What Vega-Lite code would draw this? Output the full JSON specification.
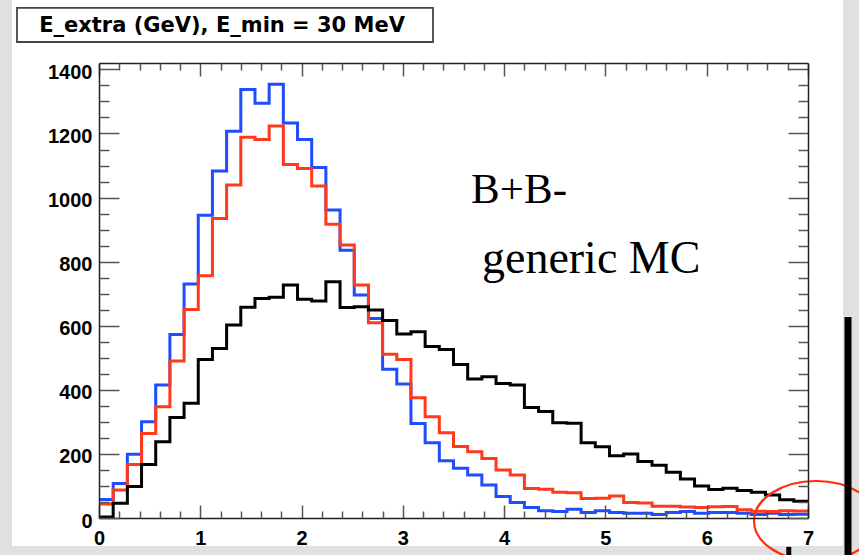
{
  "$schema": "https://vega.github.io/schema/vega-lite/v6.json",
  "width": 709,
  "height": 455,
  "autosize": {"type": "none"},
  "padding": {"left": 99, "top": 63, "right": 51, "bottom": 37},
  "background": "#e0e0e0",
  "config": {
    "view": {"stroke": null},
    "axis": {
      "grid": false,
      "domainColor": "#222",
      "domainWidth": 1.5,
      "tickColor": "#555",
      "tickWidth": 1.5,
      "labelFont": "Liberation Sans",
      "labelFontWeight": "bold",
      "labelFontSize": 20,
      "labelColor": "#000"
    }
  },
  "data": {
    "values": [
      {"E": 0.00, "blue": 58, "red": 44, "black": 3},
      {"E": 0.14, "blue": 108, "red": 87, "black": 46},
      {"E": 0.28, "blue": 199, "red": 167, "black": 98},
      {"E": 0.42, "blue": 300, "red": 264, "black": 167},
      {"E": 0.56, "blue": 415, "red": 347, "black": 238},
      {"E": 0.70, "blue": 573, "red": 490, "black": 314},
      {"E": 0.84, "blue": 730, "red": 651, "black": 358},
      {"E": 0.98, "blue": 945, "red": 756, "black": 495},
      {"E": 1.12, "blue": 1083, "red": 935, "black": 529},
      {"E": 1.26, "blue": 1207, "red": 1039, "black": 602},
      {"E": 1.40, "blue": 1337, "red": 1188, "black": 658},
      {"E": 1.54, "blue": 1294, "red": 1181, "black": 685},
      {"E": 1.68, "blue": 1354, "red": 1223, "black": 689},
      {"E": 1.82, "blue": 1233, "red": 1103, "black": 727},
      {"E": 1.96, "blue": 1181, "red": 1091, "black": 683},
      {"E": 2.10, "blue": 1094, "red": 1036, "black": 677},
      {"E": 2.24, "blue": 961, "red": 917, "black": 737},
      {"E": 2.38, "blue": 836, "red": 852, "black": 657},
      {"E": 2.52, "blue": 696, "red": 727, "black": 659},
      {"E": 2.66, "blue": 623, "red": 609, "black": 649},
      {"E": 2.80, "blue": 464, "red": 511, "black": 616},
      {"E": 2.94, "blue": 418, "red": 495, "black": 574},
      {"E": 3.08, "blue": 295, "red": 375, "black": 581},
      {"E": 3.22, "blue": 235, "red": 316, "black": 535},
      {"E": 3.36, "blue": 179, "red": 266, "black": 526},
      {"E": 3.50, "blue": 155, "red": 223, "black": 479},
      {"E": 3.64, "blue": 134, "red": 207, "black": 434},
      {"E": 3.78, "blue": 103, "red": 186, "black": 441},
      {"E": 3.92, "blue": 67, "red": 150, "black": 420},
      {"E": 4.06, "blue": 48, "red": 134, "black": 415},
      {"E": 4.20, "blue": 33, "red": 92, "black": 345},
      {"E": 4.34, "blue": 23, "red": 90, "black": 332},
      {"E": 4.48, "blue": 20, "red": 80, "black": 297},
      {"E": 4.62, "blue": 27, "red": 79, "black": 296},
      {"E": 4.76, "blue": 17, "red": 61, "black": 235},
      {"E": 4.90, "blue": 23, "red": 62, "black": 222},
      {"E": 5.04, "blue": 17, "red": 69, "black": 194},
      {"E": 5.18, "blue": 15, "red": 48, "black": 200},
      {"E": 5.32, "blue": 15, "red": 47, "black": 176},
      {"E": 5.46, "blue": 11, "red": 37, "black": 165},
      {"E": 5.60, "blue": 17, "red": 37, "black": 143},
      {"E": 5.74, "blue": 20, "red": 34, "black": 122},
      {"E": 5.88, "blue": 15, "red": 33, "black": 100},
      {"E": 6.02, "blue": 17, "red": 35, "black": 89},
      {"E": 6.16, "blue": 17, "red": 36, "black": 93},
      {"E": 6.30, "blue": 15, "red": 26, "black": 86},
      {"E": 6.44, "blue": 11, "red": 21, "black": 80},
      {"E": 6.58, "blue": 15, "red": 20, "black": 72},
      {"E": 6.72, "blue": 11, "red": 23, "black": 57},
      {"E": 6.86, "blue": 12, "red": 22, "black": 52},
      {"E": 7.00, "blue": 12, "red": 22, "black": 52}
    ]
  },
  "resolve": {"axis": {"x": "independent", "y": "independent"}},
  "layer": [
    {
      "data": {"values": [{}]},
      "mark": {"type": "rect", "fill": "#ffffff"},
      "encoding": {
        "x": {"datum": -0.859, "type": "quantitative", "scale": {"domain": [0, 7], "nice": false, "zero": false}, "axis": null},
        "x2": {"datum": 7.345},
        "y": {"datum": -87.4, "type": "quantitative", "scale": {"domain": [0, 1420], "nice": false, "zero": false}, "axis": null},
        "y2": {"datum": 1617}
      }
    },
    {
      "data": {"values": [{}]},
      "mark": {"type": "rect", "fill": "#ffffff", "stroke": "#444", "strokeWidth": 1.8},
      "encoding": {
        "x": {"datum": -0.8096, "type": "quantitative", "axis": null},
        "x2": {"datum": 3.2975},
        "y": {"datum": 1591.8, "type": "quantitative", "axis": null},
        "y2": {"datum": 1485.6}
      }
    },
    {
      "data": {"values": [{}]},
      "mark": {"type": "text", "text": "E_extra (GeV), E_min = 30 MeV", "font": "DejaVu Sans", "fontWeight": "bold", "fontSize": 21, "align": "center", "baseline": "alphabetic", "color": "#000"},
      "encoding": {
        "x": {"datum": 1.215, "type": "quantitative", "axis": null},
        "y": {"datum": 1516.9, "type": "quantitative", "axis": null}
      }
    },
    {
      "mark": {"type": "line", "interpolate": "step-after", "stroke": "#1f4cff", "strokeWidth": 3},
      "encoding": {
        "x": {"field": "E", "type": "quantitative", "scale": {"domain": [0, 7], "nice": false, "zero": false},
              "axis": {"orient": "bottom", "zindex": 1, "values": [0, 1, 2, 3, 4, 5, 6, 7], "format": "d", "tickSize": -13, "labelPadding": 23, "labelFlush": false, "domain": true, "title": null}},
        "y": {"field": "blue", "type": "quantitative", "scale": {"domain": [0, 1420], "nice": false, "zero": false},
              "axis": {"orient": "left", "zindex": 1, "values": [0, 200, 400, 600, 800, 1000, 1200, 1400], "format": "d", "tickSize": -20, "labelPadding": 27, "labelOffset": 3, "domain": true, "title": null}}
      }
    },
    {
      "mark": {"type": "line", "interpolate": "step-after", "stroke": "#ff3a1c", "strokeWidth": 3},
      "encoding": {
        "x": {"field": "E", "type": "quantitative",
              "axis": {"orient": "bottom", "zindex": 1, "values": [0.2,0.4,0.6,0.8,1.2,1.4,1.6,1.8,2.2,2.4,2.6,2.8,3.2,3.4,3.6,3.8,4.2,4.4,4.6,4.8,5.2,5.4,5.6,5.8,6.2,6.4,6.6,6.8], "tickSize": -7, "labels": false, "domain": false, "title": null}},
        "y": {"field": "red", "type": "quantitative",
              "axis": {"orient": "left", "zindex": 1, "values": [50,100,150,250,300,350,450,500,550,650,700,750,850,900,950,1050,1100,1150,1250,1300,1350], "tickSize": -10, "labels": false, "domain": false, "title": null}}
      }
    },
    {
      "mark": {"type": "line", "interpolate": "step-after", "stroke": "#000000", "strokeWidth": 3},
      "encoding": {
        "x": {"field": "E", "type": "quantitative",
              "axis": {"orient": "top", "zindex": 1, "values": [0, 1, 2, 3, 4, 5, 6, 7], "tickSize": -13, "labels": false, "domain": true, "title": null}},
        "y": {"field": "black", "type": "quantitative",
              "axis": {"orient": "right", "zindex": 1, "values": [0, 200, 400, 600, 800, 1000, 1200, 1400], "tickSize": -20, "labels": false, "domain": true, "title": null}}
      }
    },
    {
      "mark": {"type": "line", "interpolate": "step-after", "strokeOpacity": 0},
      "encoding": {
        "x": {"field": "E", "type": "quantitative",
              "axis": {"orient": "top", "zindex": 1, "values": [0.2,0.4,0.6,0.8,1.2,1.4,1.6,1.8,2.2,2.4,2.6,2.8,3.2,3.4,3.6,3.8,4.2,4.4,4.6,4.8,5.2,5.4,5.6,5.8,6.2,6.4,6.6,6.8], "tickSize": -7, "labels": false, "domain": false, "title": null}},
        "y": {"field": "black", "type": "quantitative",
              "axis": {"orient": "right", "zindex": 1, "values": [50,100,150,250,300,350,450,500,550,650,700,750,850,900,950,1050,1100,1150,1250,1300,1350], "tickSize": -10, "labels": false, "domain": false, "title": null}}
      }
    },
    {
      "data": {"values": [{}]},
      "mark": {"type": "text", "text": "B+B-", "font": "Liberation Serif", "fontSize": 43, "align": "left", "baseline": "alphabetic", "color": "#000"},
      "encoding": {
        "x": {"datum": 3.673, "type": "quantitative", "axis": null},
        "y": {"datum": 983, "type": "quantitative", "axis": null}
      }
    },
    {
      "data": {"values": [{}]},
      "mark": {"type": "text", "text": "generic MC", "font": "Liberation Serif", "fontSize": 46, "align": "left", "baseline": "alphabetic", "color": "#000"},
      "encoding": {
        "x": {"datum": 3.781, "type": "quantitative", "axis": null},
        "y": {"datum": 765, "type": "quantitative", "axis": null}
      }
    },
    {
      "data": {"values": [{}]},
      "mark": {"type": "point", "shape": "M -1 0 A 1 0.645 0 1 0 1 0 A 1 0.645 0 1 0 -1 0 Z", "size": 15376, "filled": false, "color": "#ff2a0a", "stroke": "#ff2a0a", "strokeWidth": 2.2, "opacity": 1},
      "encoding": {
        "x": {"datum": 7.079, "type": "quantitative", "axis": null},
        "y": {"datum": -9.4, "type": "quantitative", "axis": null}
      }
    },
    {
      "data": {"values": [{}]},
      "mark": {"type": "rule", "stroke": "#000000", "strokeWidth": 7},
      "encoding": {
        "x": {"datum": 7.395, "type": "quantitative", "axis": null},
        "y": {"datum": 627, "type": "quantitative", "axis": null},
        "y2": {"datum": -120}
      }
    },
    {
      "data": {"values": [{}]},
      "mark": {"type": "rule", "stroke": "#000000", "strokeWidth": 5},
      "encoding": {
        "x": {"datum": 6.81, "type": "quantitative", "axis": null},
        "y": {"datum": -90, "type": "quantitative", "axis": null},
        "y2": {"datum": -120}
      }
    }
  ]
}
